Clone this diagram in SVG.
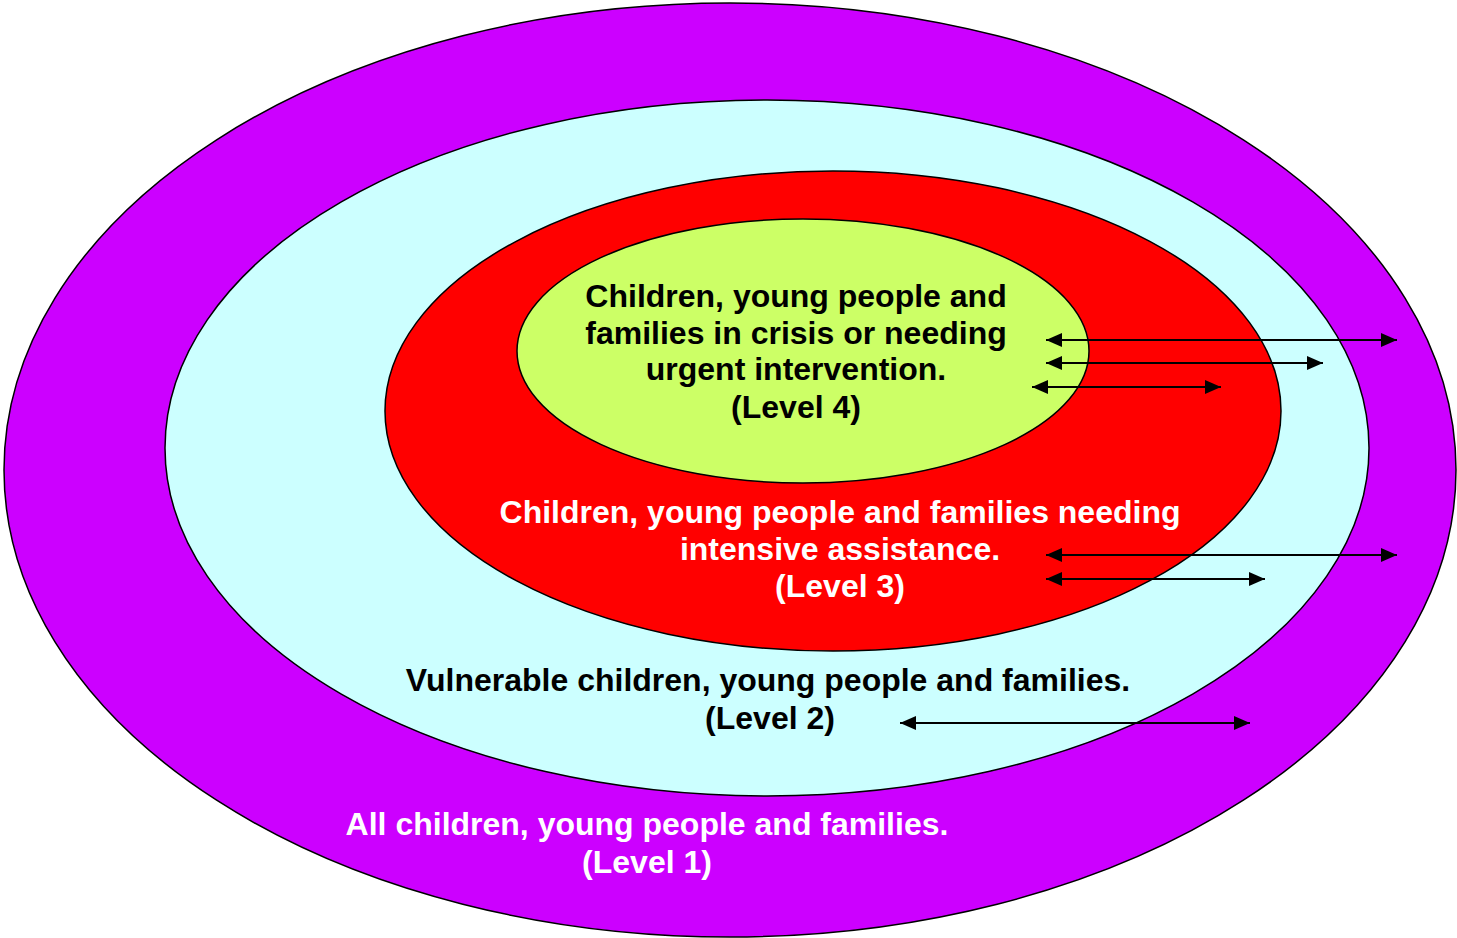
<svg xmlns="http://www.w3.org/2000/svg" width="1457" height="938" viewBox="0 0 1457 938">
<defs>
<marker id="ah" markerUnits="userSpaceOnUse" markerWidth="16" markerHeight="14" refX="16" refY="7" orient="auto-start-reverse">
<path d="M0,0 L16,7 L0,14 z" fill="#000"/>
</marker>
<style>
.ring{stroke:#000;stroke-width:1.5}
.t{font-family:"Liberation Sans",Arial,sans-serif;font-weight:bold;font-size:32px;text-anchor:middle}
.conn line{stroke:#000;stroke-width:2;marker-start:url(#ah);marker-end:url(#ah)}
</style>
</defs>
<rect width="1457" height="938" fill="#fff"/>
<g id="level1">
<ellipse class="ring" cx="730" cy="470" rx="726" ry="467" fill="#CC00FF"/>
</g>
<g id="level2">
<ellipse class="ring" cx="767" cy="448" rx="602" ry="348" fill="#CCFFFF"/>
</g>
<g id="level3">
<ellipse class="ring" cx="833" cy="411" rx="448" ry="240" fill="#FF0000"/>
</g>
<g id="level4">
<ellipse class="ring" cx="803" cy="351" rx="286" ry="132" fill="#CCFF66"/>
</g>
<g id="labels">
<text class="t" fill="#000"><tspan x="796" y="307">Children, young people and</tspan><tspan x="796" y="344">families in crisis or needing</tspan><tspan x="796" y="380">urgent intervention.</tspan><tspan x="796" y="418">(Level 4)</tspan></text>
<text class="t" fill="#fff"><tspan x="840" y="523">Children, young people and families needing</tspan><tspan x="840" y="560">intensive assistance.</tspan><tspan x="840" y="597">(Level 3)</tspan></text>
<text class="t" fill="#000"><tspan x="768" y="691">Vulnerable children, young people and families.</tspan><tspan x="770" y="729">(Level 2)</tspan></text>
<text class="t" fill="#fff"><tspan x="647" y="835">All children, young people and families.</tspan><tspan x="647" y="873">(Level 1)</tspan></text>
</g>
<g id="connectors" class="conn">
<line x1="1046" y1="340" x2="1397" y2="340"/>
<line x1="1046" y1="363" x2="1323" y2="363"/>
<line x1="1032" y1="387" x2="1221" y2="387"/>
<line x1="1046" y1="555" x2="1397" y2="555"/>
<line x1="1046" y1="579" x2="1265" y2="579"/>
<line x1="900" y1="723" x2="1250" y2="723"/>
</g>
</svg>
